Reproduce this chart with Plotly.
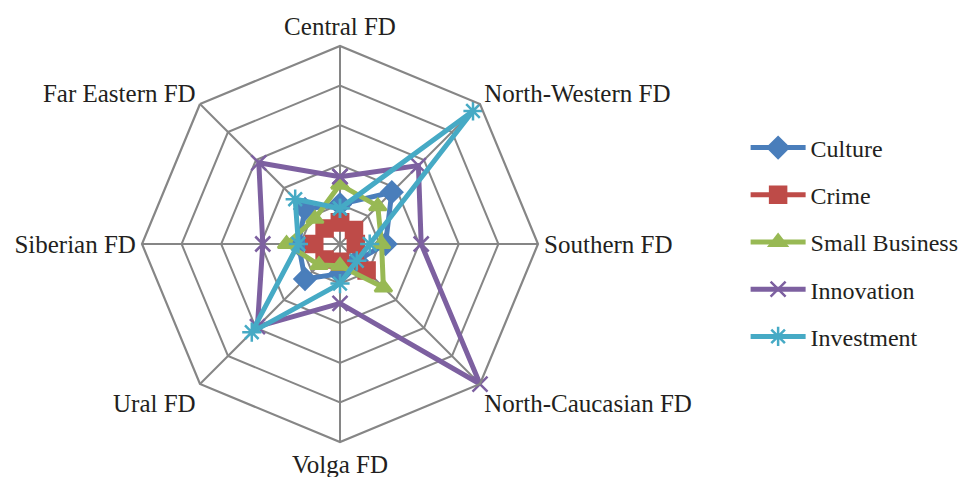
import plotly.graph_objects as go

districts = ["Central FD", "North-Western FD", "Southern FD", "North-Caucasian FD",
             "Volga FD", "Ural FD", "Siberian FD", "Far Eastern FD"]

culture = [0.20, 0.37, 0.23, 0.12, 0.15, 0.25, 0.21, 0.25]
crime = [0.11, 0.10, 0.08, 0.19, 0.09, 0.11, 0.13, 0.11]
small_business = [0.30, 0.27, 0.21, 0.31, 0.11, 0.15, 0.27, 0.18]
innovation = [0.34, 0.56, 0.41, 1.00, 0.30, 0.59, 0.39, 0.58]
investment = [0.18, 0.95, 0.15, 0.12, 0.20, 0.63, 0.21, 0.32]

series = [
    ("Culture", culture, "#4A7EBB", "diamond", 16),
    ("Crime", crime, "#BE4B48", "square", 16),
    ("Small Business", small_business, "#98B954", "triangle-up", 15),
    ("Innovation", innovation, "#7D60A0", "x-thin", 15),
    ("Investment", investment, "#46AAC5", "asterisk", 16),
]

fig = go.Figure()
for i, (name, vals, color, sym, size) in enumerate(series):
    fig.add_trace(go.Scatterpolar(
        r=vals + vals[:1],
        theta=districts + districts[:1],
        name=name,
        mode="lines+markers",
        line=dict(color=color, width=5),
        marker=dict(symbol=sym, size=size, color=color,
                    line=dict(color=color, width=2.5)),
        legendgroup=name,
    ))

font_family = "Liberation Serif, Times New Roman, serif"
fs = 25
cx = 332
fig.update_layout(
    width=968, height=477,
    margin=dict(l=0, r=0, t=38, b=43),
    paper_bgcolor="white",
    plot_bgcolor="white",
    font=dict(family=font_family, size=fs, color="#231F20"),
    polar=dict(
        domain=dict(x=[(cx - 198) / 968, (cx + 198) / 968], y=[0, 1]),
        bgcolor="white",
        gridshape="linear",
        angularaxis=dict(
            direction="clockwise", rotation=90,
            categoryorder="array", categoryarray=districts,
            showline=True, linecolor="#868686", linewidth=2.2,
            gridcolor="#868686", gridwidth=2.2,
            ticks="", tickfont=dict(size=fs, family=font_family, color="#231F20"),
        ),
        radialaxis=dict(
            range=[0, 1], tickvals=[0.2, 0.4, 0.6, 0.8, 1.0],
            showticklabels=False, ticks="",
            showline=False,
            gridcolor="#868686", gridwidth=2.2,
        ),
    ),
    legend=dict(
        x=0.762, y=0.505, xanchor="left", yanchor="middle",
        font=dict(size=24, family=font_family, color="#231F20"),
        tracegroupgap=13, itemwidth=55,
        bgcolor="rgba(0,0,0,0)",
    ),
    showlegend=True,
)

fig.write_html("out.html")
